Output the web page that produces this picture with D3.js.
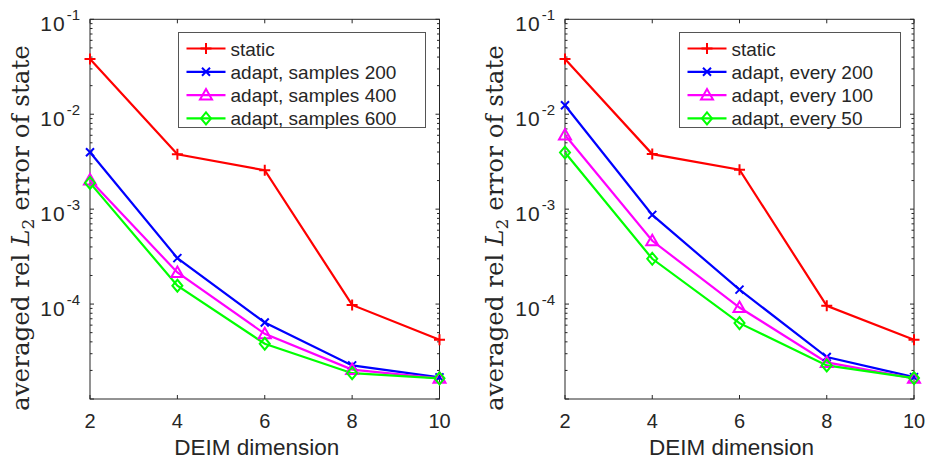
<!DOCTYPE html>
<html>
<head>
<meta charset="utf-8">
<script src="https://cdn.jsdelivr.net/npm/d3@7"></script>
<style>
  body { margin: 0; background: #fff; }
  svg text { font-family: "Liberation Sans", Arial, sans-serif; fill: #262626; }
</style>
</head>
<body>
<svg id="chart" width="927" height="459"></svg>
<script>
// DEIM dimension (x axis)
var dims = [2, 4, 6, 8, 10];

// left panel: samples
var staticLeft   = [0.0382, 0.00379, 0.00257, 0.000098, 0.000042];
var samples200   = [0.00398, 0.000305, 0.000064, 0.0000226, 0.0000169];
var samples400   = [0.00203, 0.000215, 0.0000486, 0.0000204, 0.0000165];
var samples600   = [0.00189, 0.000156, 0.0000382, 0.0000187, 0.0000165];

// right panel: every
var staticRight  = [0.0382, 0.0038, 0.0026, 0.000096, 0.000042];
var every200     = [0.01245, 0.00087, 0.000142, 0.0000277, 0.000017];
var every100     = [0.00605, 0.000464, 0.000092, 0.0000243, 0.0000165];
var every50      = [0.00395, 0.0003, 0.000063, 0.0000226, 0.0000166];

var leftNames  = ["static", "adapt, samples 200", "adapt, samples 400", "adapt, samples 600"];
var rightNames = ["static", "adapt, every 200", "adapt, every 100", "adapt, every 50"];

var colors  = ["#ff0000", "#0000ff", "#ff00ff", "#00ff00"];
var markers = ["plus", "cross", "triangle", "diamond"];

var yTicks = [1e-5, 1e-4, 1e-3, 1e-2, 1e-1];
var yTickExp = [-5, -4, -3, -2, -1];

var axisColor = "#262626";
var svg = d3.select("#chart");

function drawMarker(g, type, x, y, color) {
  var s = 5.5;
  if (type == "plus") {
    g.append("path").attr("d", "M" + (x - s) + "," + y + "H" + (x + s) + "M" + x + "," + (y - s) + "V" + (y + s))
      .attr("stroke", color).attr("stroke-width", 2).attr("fill", "none");
  } else if (type == "cross") {
    var c = 4;
    g.append("path").attr("d", "M" + (x - c) + "," + (y - c) + "L" + (x + c) + "," + (y + c) + "M" + (x - c) + "," + (y + c) + "L" + (x + c) + "," + (y - c))
      .attr("stroke", color).attr("stroke-width", 2).attr("fill", "none");
  } else if (type == "triangle") {
    g.append("path").attr("d", "M" + x + "," + (y - 6) + "L" + (x + 6) + "," + (y + 4.5) + "L" + (x - 6) + "," + (y + 4.5) + "Z")
      .attr("stroke", color).attr("stroke-width", 2).attr("fill", "none");
  } else {
    g.append("path").attr("d", "M" + x + "," + (y - 6) + "L" + (x + 5) + "," + y + "L" + x + "," + (y + 6) + "L" + (x - 5) + "," + y + "Z")
      .attr("stroke", color).attr("stroke-width", 2).attr("fill", "none");
  }
}

function panel(x0, x1, series, names, legendX, legendW, labelX) {
  var top = 19.3, bottom = 399;
  var xScale = d3.scaleLinear().domain([2, 10]).range([x0, x1]);
  var yScale = d3.scaleLog().domain([1e-5, 1e-1]).range([bottom, top]);

  var g = svg.append("g");

  // box
  g.append("rect").attr("x", x0).attr("y", top).attr("width", x1 - x0).attr("height", bottom - top)
    .attr("fill", "none").attr("stroke", axisColor).attr("stroke-width", 1);

  // x ticks (bottom and top, inward)
  dims.forEach(function(d) {
    var x = xScale(d);
    g.append("line").attr("x1", x).attr("x2", x).attr("y1", bottom).attr("y2", bottom - 4).attr("stroke", axisColor);
    g.append("line").attr("x1", x).attr("x2", x).attr("y1", top).attr("y2", top + 4).attr("stroke", axisColor);
    g.append("text").attr("x", x).attr("y", 428).attr("text-anchor", "middle")
      .style("font-size", "20px").text(d);
  });

  // y ticks major + minor
  yTicks.forEach(function(t, i) {
    var y = yScale(t);
    g.append("line").attr("x1", x0).attr("x2", x0 + 4).attr("y1", y).attr("y2", y).attr("stroke", axisColor);
    g.append("line").attr("x1", x1).attr("x2", x1 - 4).attr("y1", y).attr("y2", y).attr("stroke", axisColor);
    if (i < yTicks.length - 1) {
      for (var m = 2; m <= 9; m++) {
        var ym = yScale(t * m);
        g.append("line").attr("x1", x0).attr("x2", x0 + 2.5).attr("y1", ym).attr("y2", ym).attr("stroke", axisColor);
        g.append("line").attr("x1", x1).attr("x2", x1 - 2.5).attr("y1", ym).attr("y2", ym).attr("stroke", axisColor);
      }
    }
    if (i > 0) {
      var lab = g.append("text").attr("x", x0 - 10).attr("y", y + 12).attr("text-anchor", "end").style("font-size", "21px");
      lab.append("tspan").style("letter-spacing", "1px").text("10");
      lab.append("tspan").attr("dy", -11).attr("dx", 1).style("font-size", "15px").text(yTickExp[i]);
    }
  });

  // lines
  var line = d3.line().x(function(d, i) { return xScale(dims[i]); }).y(function(d) { return yScale(d); });
  series.forEach(function(s, k) {
    g.append("path").datum(s).attr("d", line).attr("fill", "none")
      .attr("stroke", colors[k]).attr("stroke-width", 2.2);
  });
  series.forEach(function(s, k) {
    s.forEach(function(v, i) {
      drawMarker(g, markers[k], xScale(dims[i]), yScale(v), colors[k]);
    });
  });

  // legend
  var lg = g.append("g");
  lg.append("rect").attr("x", legendX).attr("y", 32.5).attr("width", legendW).attr("height", 95)
    .attr("fill", "#fff").attr("stroke", "#555").attr("stroke-width", 1);
  names.forEach(function(n, k) {
    var ly = 48.5 + k * 23.3;
    lg.append("line").attr("x1", legendX + 8).attr("x2", legendX + 47).attr("y1", ly).attr("y2", ly)
      .attr("stroke", colors[k]).attr("stroke-width", 2.2);
    drawMarker(lg, markers[k], legendX + 27.5, ly, colors[k]);
    lg.append("text").attr("x", legendX + 52).attr("y", ly + 7).style("font-size", "19px").text(n);
  });

  // axis labels
  g.append("text").attr("x", (x0 + x1) / 2 - 8).attr("y", 455).attr("text-anchor", "middle")
    .style("font-size", "22.5px").text("DEIM dimension");

  var yl = g.append("text").attr("transform", "translate(" + labelX + ",228) rotate(-90)")
    .attr("text-anchor", "middle")
    .style("font-family", "'DejaVu Serif', serif").style("font-size", "20px");
  yl.append("tspan").text("averaged rel ");
  yl.append("tspan").style("font-style", "italic").text("L");
  var sub = yl.append("tspan").attr("dy", 5).style("font-size", "14px").text("2");
  yl.append("tspan").attr("dy", -5).text(" error of state");

  // fit label length to about 366px like the reference
  var len = yl.node().getComputedTextLength();
  var f = 20 * 366 / len;
  yl.style("font-size", f + "px");
  sub.style("font-size", (f * 0.7) + "px");
}

panel(90, 439.5, [staticLeft, samples200, samples400, samples600], leftNames, 178.5, 247, 29);
panel(565, 914, [staticRight, every200, every100, every50], rightNames, 679.5, 221, 503);
</script>
</body>
</html>
